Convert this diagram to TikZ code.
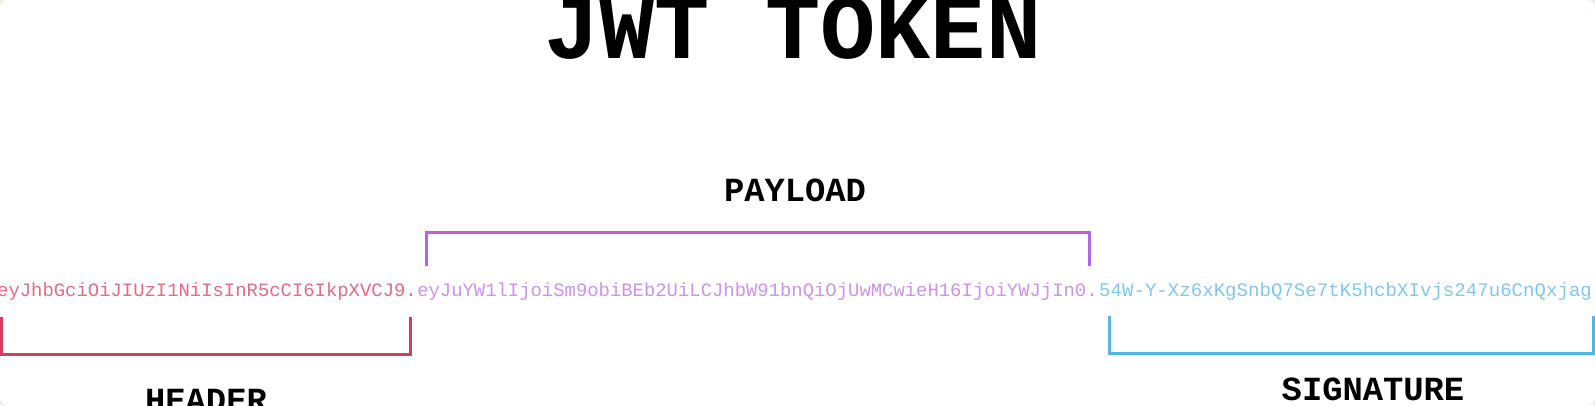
\documentclass[tikz,border=0pt]{standalone}
\usepackage{fontspec}
\usepackage{xcolor}
\usepackage{tikz}
\usetikzlibrary{positioning}
\newfontfamily\jwtmono{Liberation Mono}

\definecolor{hdrcol}{HTML}{D93A60}
\definecolor{paycol}{HTML}{B565E0}
\definecolor{sigcol}{HTML}{58B4E4}
\definecolor{sfondo}{HTML}{F2F0E2}

\begin{document}
\begin{tikzpicture}[x=1pt, y=1pt, line cap=butt, line join=miter,
    tok/.style={inner sep=0pt, font=\jwtmono\fontsize{18.9}{20}\selectfont},
    etichetta/.style={inner sep=0pt, font=\jwtmono\bfseries\fontsize{33.8}{36}\selectfont},
    graffa/.style={line width=3pt}]

% Cornice
\useasboundingbox (0,0) rectangle (1595,405);
\clip (0,0) rectangle (1595,405);
\fill[sfondo] (0,0) rectangle (1595,405);
\fill[white, rounded corners=8pt] (0,0) rectangle (1595,405);

% Titolo
\node[inner sep=0pt, anchor=base, font=\jwtmono\bfseries\fontsize{92}{96}\selectfont] (titolo) at (793,346) {JWT TOKEN};

% Token
\node[tok, anchor=base west, text=hdrcol!75] (hdr) at (-3,109) {eyJhbGciOiJIUzI1NiIsInR5cCI6IkpXVCJ9.};
\node[tok, base right=0pt of hdr, text=paycol!70] (pay) {eyJuYW1lIjoiSm9obiBEb2UiLCJhbW91bnQiOjUwMCwieH16IjoiYWJjIn0.};
\node[tok, base right=1pt of pay, text=sigcol!75, font=\jwtmono\fontsize{19.1}{20}\selectfont] (sig) {54W-Y-Xz6xKgSnbQ7Se7tK5hcbXIvjs247u6CnQxjag};

% Parentesi
\coordinate (h1) at (1,88);
\coordinate (h2) at (410,51);
\draw[graffa, hdrcol] (h1) |- (h2) -- ++(0,37);

\coordinate (p1) at (426,139);
\coordinate (p2) at (1089,173);
\draw[graffa, paycol] (p1) |- (p2) -- ++(0,-34);

\coordinate (s1) at (1109,89);
\coordinate (s2) at (1593,52);
\draw[graffa, sigcol] (s1) |- (s2) -- ++(0,37);

% Etichette
\node[etichetta, anchor=base] (lpay) at (795,204) {PAYLOAD};
\node[etichetta, anchor=base] (lhdr) at (206,-6) {HEADER};
\node[etichetta, anchor=base] (lsig) at (1373,5) {SIGNATURE};

\end{tikzpicture}
\end{document}
